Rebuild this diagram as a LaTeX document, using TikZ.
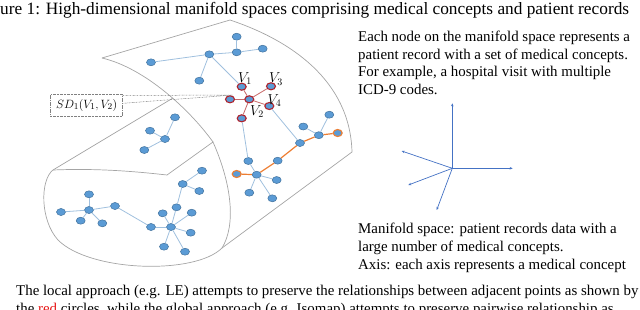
\documentclass[tikz,border=0pt]{standalone}
\usepackage{fontspec}
\setmainfont{Liberation Serif}
\usetikzlibrary{shapes.geometric,arrows.meta}
\definecolor{nodefill}{RGB}{91,155,213}
\definecolor{nodeborder}{RGB}{65,113,156}
\definecolor{edgeblue}{RGB}{160,192,222}
\definecolor{redb}{RGB}{175,35,45}
\definecolor{rededge}{RGB}{200,105,105}
\definecolor{orng}{RGB}{237,125,49}
\definecolor{outline}{RGB}{165,165,165}
\definecolor{axisblue}{RGB}{68,114,196}
\definecolor{txtred}{RGB}{230,20,20}
\tikzset{
  pt/.style={ellipse, draw=nodeborder, fill=nodefill, minimum width=9pt, minimum height=7pt, inner sep=0pt, line width=0.5pt},
  rpt/.style={pt, draw=redb, line width=1.1pt},
  opt/.style={pt, draw=orng, line width=1.1pt},
  bl/.style={draw=edgeblue, line width=0.8pt},
  rl/.style={draw=rededge, line width=0.8pt},
  ol/.style={draw=orng, line width=1.2pt},
  mf/.style={draw=outline, line width=0.7pt},
  axisarrow/.style={draw=axisblue, line width=0.7pt, -{Stealth[length=3pt,width=2.5pt]}},
  txt/.style={inner sep=0pt, anchor=base west, font=\fontsize{14.9}{17}\selectfont},
  vlab/.style={inner sep=0pt, font=\fontsize{14}{14}\selectfont},
}
\begin{document}
\begin{tikzpicture}[x=1pt,y=-1pt]
\useasboundingbox (0,0) rectangle (640,309);

% manifold outline
\draw[mf] (102,58) -- (230,20) .. controls (290,40) and (350,80) .. (352,152) -- (222,248);
\draw[mf] (102,58) .. controls (145,68) and (190,110) .. (213,142);
\draw[mf] (53,170) -- (173,98);
\draw[mf] (53,170) .. controls (100,168) and (140,172) .. (167,175) -- (213,142)
  .. controls (232,185) and (236,225) .. (222,248)
  .. controls (195,275) and (90,272) .. (58,240)
  .. controls (40,220) and (40,180) .. (53,170);

% top cluster
\node[pt] (a1) at (236.7,36.7) {};
\node[pt] (a2) at (236.7,52.3) {};
\node[pt] (a3) at (262.7,48.7) {};
\node[pt] (a4) at (209.3,54.3) {};
\node[pt] (a5) at (151,62.3) {};
\node[pt] (a6) at (199.3,80.7) {};

% red cluster
\node[rpt] (v1) at (241.7,86.7) {};
\node[rpt] (v3) at (271,86.3) {};
\node[rpt] (c) at (249.3,99.3) {};
\node[rpt] (l) at (230,99.3) {};
\node[rpt] (v4) at (269.3,106) {};
\node[rpt] (v2) at (241.7,118.3) {};

% right cluster
\node[pt] (r1) at (300,143) {};
\node[pt] (r2) at (318.8,135.2) {};
\node[opt] (r3) at (337.7,133) {};
\node[pt] (r4) at (303.3,126.5) {};
\node[pt] (r5) at (329.3,114.7) {};
\node[pt] (r6) at (277.7,160.7) {};
\node[pt] (r7) at (256.7,174.7) {};
\node[opt] (r8) at (236.7,174) {};
\node[pt] (r9) at (248.3,161) {};
\node[pt] (r10) at (276.7,180) {};
\node[pt] (r11) at (249.3,192.7) {};
\node[pt] (r12) at (272.3,198.3) {};

% mid-left cluster
\node[pt] (m1) at (175,117.3) {};
\node[pt] (m2) at (150,130.7) {};
\node[pt] (m3) at (165,139) {};
\node[pt] (m4) at (144.3,150) {};

% front face clusters
\node[pt] (f1) at (89,194.3) {};
\node[pt] (f2) at (89,210) {};
\node[pt] (f3) at (61,212) {};
\node[pt] (f4) at (80.7,220.7) {};
\node[pt] (f5) at (102.3,223.3) {};
\node[pt] (f6) at (115,206) {};
\node[pt] (g1) at (151,227) {};
\node[pt] (g2) at (171,227) {};
\node[pt] (g3) at (162.7,213.3) {};
\node[pt] (g4) at (176.5,207.3) {};
\node[pt] (g5) at (191.7,212.7) {};
\node[pt] (g6) at (190.7,232.7) {};
\node[pt] (g7) at (164,246.7) {};
\node[pt] (g8) at (185,251.7) {};
\node[pt] (g9) at (182.7,184) {};
\node[pt] (g10) at (202,170.7) {};
\node[pt] (g11) at (199.3,191) {};

% edges
\draw[bl] (a1) -- (a2);
\draw[bl] (a2) -- (a3);
\draw[bl] (a2) -- (a4);
\draw[bl] (a4) -- (a5);
\draw[bl] (a4) -- (a6);
\draw[bl] (a4) -- (v1);
\draw[rl] (c) -- (v1);
\draw[rl] (c) -- (v3);
\draw[rl] (c) -- (l);
\draw[rl] (c) -- (v4);
\draw[rl] (c) -- (v2);
\draw[bl] (v2) -- (r9);
\draw[bl] (v4) -- (r1);
\draw[ol] (r8) -- (r7);
\draw[ol] (r7) -- (r6);
\draw[ol] (r6) -- (r1);
\draw[ol] (r1) -- (r2);
\draw[ol] (r2) -- (r3);
\draw[bl] (r2) -- (r4);
\draw[bl] (r2) -- (r5);
\draw[bl] (r7) -- (r9);
\draw[bl] (r7) -- (r10);
\draw[bl] (r7) -- (r11);
\draw[bl] (r7) -- (r12);
\draw[bl] (m1) -- (m3);
\draw[bl] (m2) -- (m3);
\draw[bl] (m3) -- (m4);
\draw[bl] (f2) -- (f1);
\draw[bl] (f2) -- (f3);
\draw[bl] (f2) -- (f4);
\draw[bl] (f2) -- (f5);
\draw[bl] (f2) -- (f6);
\draw[bl] (f6) -- (g1);
\draw[bl] (g1) -- (g2);
\draw[bl] (g2) -- (g3);
\draw[bl] (g2) -- (g4);
\draw[bl] (g2) -- (g5);
\draw[bl] (g2) -- (g6);
\draw[bl] (g2) -- (g7);
\draw[bl] (g2) -- (g8);
\draw[bl] (g4) -- (g9);
\draw[bl] (g9) -- (g10);
\draw[bl] (g9) -- (g11);

% V labels
\node[vlab] (lv1) at (245,78.5) {$V_1$};
\node[vlab] (lv3) at (276,79) {$V_3$};
\node[vlab] (lv4) at (274.5,100.5) {$V_4$};
\node[vlab] (lv2) at (257,111.5) {$V_2$};

% SD callout
\node[draw=gray, line width=0.5pt, dash pattern=on 1.5pt off 0.8pt on 0.4pt off 0.8pt, minimum width=72pt, minimum height=22pt, inner sep=0pt, font=\fontsize{12.6}{12.6}\selectfont] (sd) at (86.7,105) {$SD_1(V_1,V_2)$};
\coordinate (ctip) at (233,95);
\coordinate (cs1) at (122.7,95.5);
\coordinate (cs2) at (122.7,103.3);
\draw[draw=gray, line width=0.5pt, dash pattern=on 1.5pt off 0.8pt on 0.4pt off 0.8pt] (cs1) -- (ctip) -- (cs2);

% axes
\coordinate (o) at (452.3,168.3);
\coordinate (ax1) at (452.3,103.3);
\coordinate (ax2) at (512.7,168.3);
\coordinate (ax3) at (401.7,151);
\coordinate (ax4) at (408.3,185);
\coordinate (ax5) at (436.7,210);
\draw[axisarrow] (o) -- (ax1);
\draw[axisarrow] (o) -- (ax2);
\draw[axisarrow] (o) -- (ax3);
\draw[axisarrow] (o) -- (ax4);
\draw[axisarrow] (o) -- (ax5);

% texts
\node[txt, font=\fontsize{17.3}{20}\selectfont] (title) at (0,14.5) {ure 1: High-dimensional manifold spaces comprising medical concepts and patient records};
\node[txt] (t1) at (358,41.7) {Each node on the manifold space represents a};
\node[txt] (t2) at (358,59.3) {patient record with a set of medical concepts.};
\node[txt] (t3) at (358,76.8) {For example, a hospital visit with multiple};
\node[txt] (t4) at (358,94.3) {ICD-9 codes.};
\node[txt] (t5) at (358,233) {Manifold space: patient records data with a};
\node[txt] (t6) at (358,251.5) {large number of medical concepts.};
\node[txt] (t7) at (358,269.3) {Axis: each axis represents a medical concept};
\node[txt] (b1) at (16,295) {The local approach (e.g. LE) attempts to preserve the relationships between adjacent points as shown by};
\node[txt] (b2) at (16,313.5) {the \textcolor{txtred}{red} circles, while the global approach (e.g. Isomap) attempts to preserve pairwise relationship as};
\end{tikzpicture}
\end{document}
